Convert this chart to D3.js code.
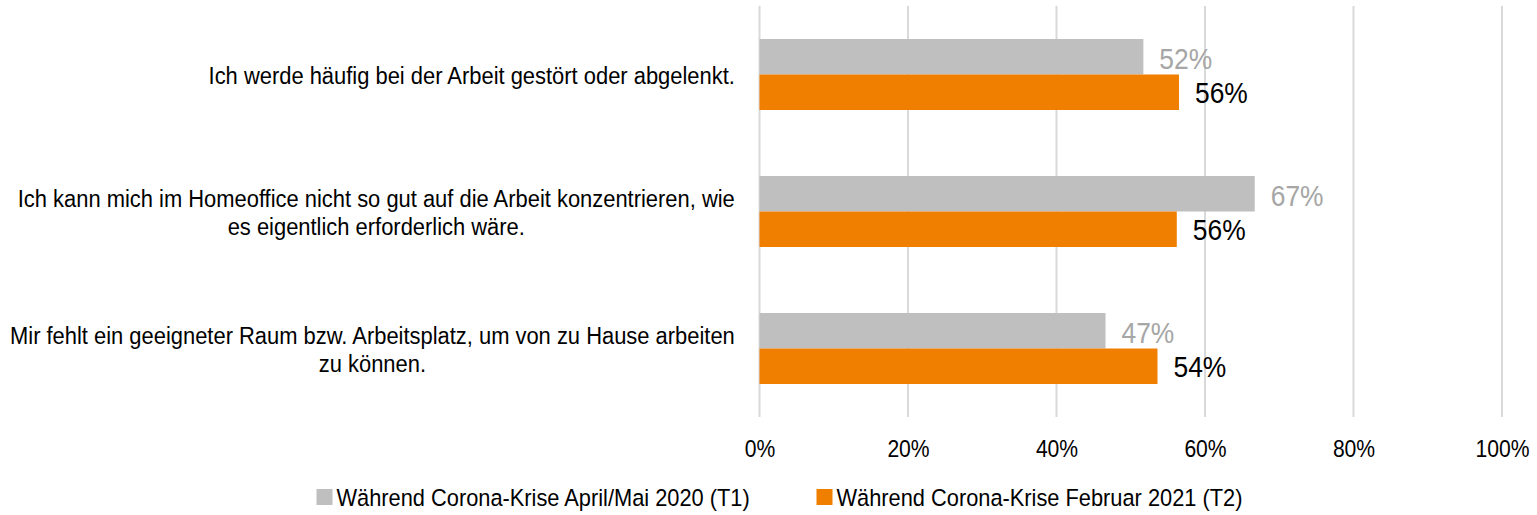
<!DOCTYPE html>
<html>
<head>
<meta charset="utf-8">
<script src="https://cdn.jsdelivr.net/npm/d3@7"></script>
<style>
  body { margin: 0; background: #fff; }
  svg text { font-family: "Liberation Sans", Arial, sans-serif; }
</style>
</head>
<body>
<div id="chart"></div>
<script>
let W = 1537, H = 515
let margin = {top: 6, right: 35, bottom: 98, left: 759.5}
let plotW = W - margin.left - margin.right,
    plotH = H - margin.top - margin.bottom

// the reference uses a narrow font, so squeeze the regular one horizontally
let squeeze = 0.88
let squeezeCat = 0.895

// data
const categories = [
    ["Ich werde häufig bei der Arbeit gestört oder abgelenkt."],
    ["Ich kann mich im Homeoffice nicht so gut auf die Arbeit konzentrieren, wie", "es eigentlich erforderlich wäre."],
    ["Mir fehlt ein geeigneter Raum bzw. Arbeitsplatz, um von zu Hause arbeiten", "zu können."]
]
const seriesNames = ["Während Corona-Krise April/Mai 2020 (T1)", "Während Corona-Krise Februar 2021 (T2)"]
const t1Values = [0.517, 0.667, 0.466]
const t2Values = [0.565, 0.562, 0.536]
const valueLabels1 = ["52%", "67%", "47%"]
const valueLabels2 = ["56%", "56%", "54%"]
const xTicks = [0, 0.2, 0.4, 0.6, 0.8, 1.0]

const colors = ["#bfbfbf", "#f07f00"]
const labelColors = ["#a6a6a6", "#000000"]

let svg = d3.select("#chart")
            .append("svg")
            .attr("width", W)
            .attr("height", H)

let g = svg.append("g")
           .attr("transform", "translate(" + margin.left + "," + margin.top + ")")

let x = d3.scaleLinear()
          .domain([0, 1])
          .range([0, plotW])

let y0 = d3.scaleBand()
           .domain(d3.range(categories.length))
           .range([0, plotH])
           .padding(0)

let y1 = d3.scaleBand()
           .domain([0, 1])
           .range([0, y0.bandwidth()])
           .paddingInner(0)
           .paddingOuter(0.93)

// gridlines
g.selectAll(".grid")
 .data(xTicks)
 .enter()
 .append("line")
 .attr("class", "grid")
 .attr("x1", d => x(d))
 .attr("x2", d => x(d))
 .attr("y1", 0)
 .attr("y2", plotH)
 .attr("stroke", "#d9d9d9")
 .attr("stroke-width", 2)

// x axis labels
let xAxis = g.append("g")
             .attr("transform", "translate(0," + plotH + ")")
             .call(d3.axisBottom(x).tickValues(xTicks).tickFormat(d3.format(".0%")).tickSize(0).tickPadding(23))
xAxis.select(".domain").remove()
xAxis.selectAll("text")
     .attr("font-size", 24)
     .attr("fill", "#000")
     .attr("transform", "scale(" + squeeze + ",1)")
     .style("font-family", null)

const series = [t1Values, t2Values]
const seriesLabels = [valueLabels1, valueLabels2]

series.forEach(function(vals, s) {
    g.selectAll(".bar" + s)
     .data(vals)
     .enter()
     .append("rect")
     .attr("class", "bar" + s)
     .attr("x", x(0))
     .attr("y", (d, i) => y0(i) + y1(s))
     .attr("width", d => x(d) - x(0))
     .attr("height", y1.bandwidth())
     .attr("fill", colors[s])

    g.selectAll(".lab" + s)
     .data(vals)
     .enter()
     .append("text")
     .attr("class", "lab" + s)
     .attr("transform", (d, i) => "translate(" + (x(d) + 16) + "," +
           (y0(i) + y1(s) + y1.bandwidth() / 2 + (s == 0 ? 1.5 : 0)) + ") scale(" + squeeze + ",1)")
     .attr("dy", "0.35em")
     .attr("font-size", 30)
     .attr("fill", labelColors[s])
     .text((d, i) => seriesLabels[s][i])
})

// category labels: block right-aligned, lines centred in the block
let rightEdge = 735 - margin.left
let lineH = 28.5
categories.forEach(function(lines, i) {
    let cy = y0(i) + y0.bandwidth() / 2 + 1
    let grp = g.append("g")
    let texts = grp.selectAll("text")
                   .data(lines)
                   .enter()
                   .append("text")
                   .attr("dy", "0.35em")
                   .attr("font-size", 24.5)
                   .attr("fill", "#000")
                   .attr("text-anchor", "middle")
                   .text(d => d)
    let maxW = d3.max(texts.nodes(), n => n.getComputedTextLength()) * squeezeCat
    texts.attr("transform", (d, j) => "translate(" + (rightEdge - maxW / 2) + "," +
               (cy + (j - (lines.length - 1) / 2) * lineH) + ") scale(" + squeezeCat + ",1)")
})

// legend
let legend = svg.append("g")
let legendX = [316.5, 816.5]
seriesNames.forEach(function(name, s) {
    legend.append("rect")
          .attr("x", legendX[s])
          .attr("y", 489)
          .attr("width", 16)
          .attr("height", 16)
          .attr("fill", colors[s])
    legend.append("text")
          .attr("transform", "translate(" + (legendX[s] + 20) + ",497) scale(0.89,1)")
          .attr("dy", "0.35em")
          .attr("font-size", 24.5)
          .attr("fill", "#000")
          .text(name)
})
</script>
</body>
</html>
